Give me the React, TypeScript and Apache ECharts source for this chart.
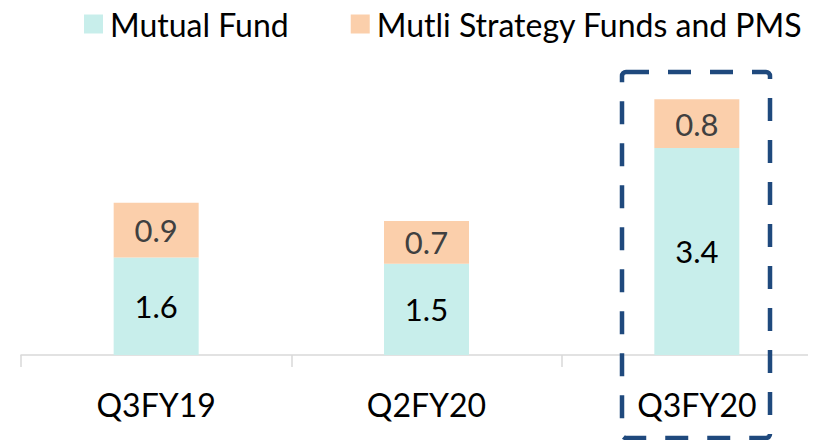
import React, { useEffect, useRef } from "react";
import * as echarts from "echarts";

const categories = ["Q3FY19", "Q2FY20", "Q3FY20"];
const mutualFund = [1.6, 1.5, 3.4];
const multiStrategy = [0.9, 0.7, 0.8];
const seriesNames = ["Mutual Fund", "Mutli Strategy Funds and PMS"];

const FONT = "Lato, 'Open Sans', sans-serif";

export default function App() {
  const ref = useRef<HTMLDivElement>(null);
  useEffect(() => {
    if (!ref.current) return;
    const chart = echarts.init(ref.current, null, { renderer: "svg" });
    chart.setOption({
      animation: false,
      backgroundColor: "#ffffff",
      textStyle: { fontFamily: FONT },
      legend: {
        left: 79,
        top: 3,
        itemWidth: 19,
        itemHeight: 19,
        itemGap: 62,
        icon: "rect",
        textStyle: { fontSize: 32, color: "#000000", fontFamily: FONT, padding: [0, 0, 0, 2] },
        data: seriesNames,
      },
      grid: {
        left: 21,
        width: 811,
        top: 50.5,
        bottom: 93,
        outerBoundsMode: "none",
        containLabel: false,
      },
      xAxis: {
        type: "category",
        data: categories,
        axisLine: { lineStyle: { color: "#d9d9d9", width: 1.5 } },
        axisTick: { show: true, alignWithLabel: false, length: 12, lineStyle: { color: "#d9d9d9", width: 1.5 } },
        axisLabel: { fontSize: 32, color: "#000000", margin: 33, fontFamily: FONT },
      },
      yAxis: { type: "value", min: 0, max: 5, show: false },
      series: [
        {
          name: seriesNames[0],
          type: "bar",
          stack: "total",
          barWidth: 85,
          data: mutualFund,
          itemStyle: { color: "#C8EEEB" },
          label: { show: true, position: "inside", fontSize: 31, color: "#000000", fontFamily: FONT },
        },
        {
          name: seriesNames[1],
          type: "bar",
          stack: "total",
          barWidth: 85,
          data: multiStrategy,
          itemStyle: { color: "#FBCFAB" },
          label: { show: true, position: "inside", fontSize: 31, color: "#404040", fontFamily: FONT },
        },
      ],
      graphic: [
        {
          type: "rect",
          shape: { x: 622, y: 72, width: 148, height: 366, r: 4 },
          style: { fill: "none", stroke: "#1F497D", lineWidth: 4.5, lineDash: [23, 19] },
          z: 100,
        },
      ],
    });
    return () => chart.dispose();
  }, []);
  return <div ref={ref} style={{ width: 816, height: 448, margin: -8 }} />;
}
